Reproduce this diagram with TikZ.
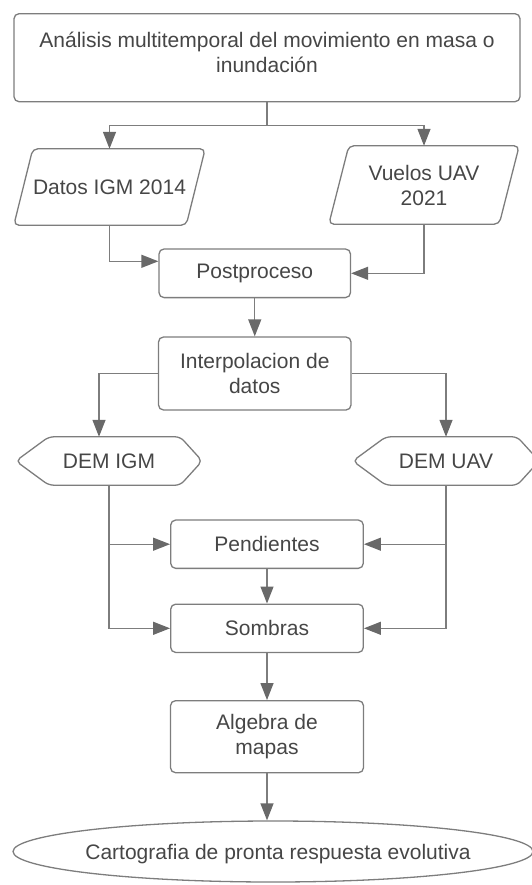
\documentclass[tikz,border=0pt]{standalone}
\usepackage{fontspec}
\setmainfont{Liberation Sans}
\usetikzlibrary{arrows.meta,shapes.geometric,calc}
\definecolor{ln}{RGB}{125,125,125}
\definecolor{ahd}{RGB}{105,105,105}
\definecolor{tx}{RGB}{70,70,70}
\begin{document}
\begin{tikzpicture}[x=1pt,y=-1pt,
  font=\fontsize{21}{25}\selectfont, text=tx,
  box/.style={draw=ln, line width=1.3pt, rounded corners=5pt, fill=white, inner sep=0pt, align=center},
  ghost/.style={inner sep=0pt, align=center},
  outline/.style={draw=ln, line width=1.3pt, rounded corners=5pt},
  arr/.style={draw=ln, line width=1.3pt, -{Triangle[length=17pt,width=13pt,color=ahd]}},
  plain/.style={draw=ln, line width=1.3pt}]
\useasboundingbox (0,0) rectangle (532,885);

% top box
\node[box, minimum width=506pt, minimum height=88pt] (top) at (267,57.7) {};
\node[ghost] (toptxt) at (267,52) {Análisis multitemporal del movimiento en masa o\\inundación};

% parallelograms
\node[ghost, minimum width=191pt, minimum height=76pt] (datos) at (109.5,187) {Datos IGM 2014};
\draw[outline] (datos.south west) -- ([xshift=19pt]datos.north west) -- (datos.north east) -- ([xshift=-19pt]datos.south east) -- cycle;
\node[ghost, minimum width=190pt, minimum height=78pt] (vuelos) at (424,185) {Vuelos UAV\\2021};
\draw[outline] (vuelos.south west) -- ([xshift=20pt]vuelos.north west) -- (vuelos.north east) -- ([xshift=-20pt]vuelos.south east) -- cycle;

% process boxes
\node[box, minimum width=191.5pt, minimum height=48.6pt] (post) at (254.75,273.3) {Postproceso};
\node[box, minimum width=192.5pt, minimum height=73pt] (interp) at (254.75,373.5) {Interpolacion de\\datos};

% hexagons
\node[ghost, minimum width=186pt, minimum height=48pt] (igm) at (109,461) {DEM IGM};
\draw[outline] (igm.west) -- ([xshift=33pt]igm.north west) -- ([xshift=-22pt]igm.north east) -- (igm.east) -- ([xshift=-22pt]igm.south east) -- ([xshift=33pt]igm.south west) -- cycle;
\node[ghost, minimum width=186pt, minimum height=48pt] (uav) at (446,461) {DEM UAV};
\draw[outline] (uav.west) -- ([xshift=33pt]uav.north west) -- ([xshift=-22pt]uav.north east) -- (uav.east) -- ([xshift=-22pt]uav.south east) -- ([xshift=33pt]uav.south west) -- cycle;

\node[box, minimum width=192.6pt, minimum height=48.3pt] (pend) at (267,544.2) {Pendientes};
\node[box, minimum width=192.6pt, minimum height=48.3pt] (somb) at (267,628.3) {Sombras};
\node[box, minimum width=193pt, minimum height=72pt] (alg) at (267,736.7) {Algebra de\\mapas};

% ellipse
\node[draw=ln, line width=1.3pt, ellipse, minimum width=520pt, minimum height=61pt, inner sep=0pt] (cart) at (273,851.5) {};
\node[ghost] (carttxt) at (278,854) {Cartografia de pronta respuesta evolutiva};

% connectors
\coordinate (split) at (267,125.5);
\draw[plain] (top.south) -- (split);
\draw[arr] (split) -| (datos.north);
\draw[arr] (split) -| (vuelos.north);
\draw[arr] (datos.south) |- ([yshift=12pt]post.west);
\draw[arr] (vuelos.south) |- (post.east);
\draw[arr] (post.south) -- (interp.north);
\draw[arr] (interp.west) -| ([xshift=-10pt]igm.north);
\draw[arr] (interp.east) -| (uav.north);
\draw[arr] (igm.south) |- (pend.west);
\draw[arr] (igm.south) |- (somb.west);
\draw[arr] (uav.south) |- (pend.east);
\draw[arr] (uav.south) |- (somb.east);
\draw[arr] (pend.south) -- (somb.north);
\draw[arr] (somb.south) -- (alg.north);
\draw[arr] (alg.south) -- (alg.south |- cart.north);
\end{tikzpicture}
\end{document}
